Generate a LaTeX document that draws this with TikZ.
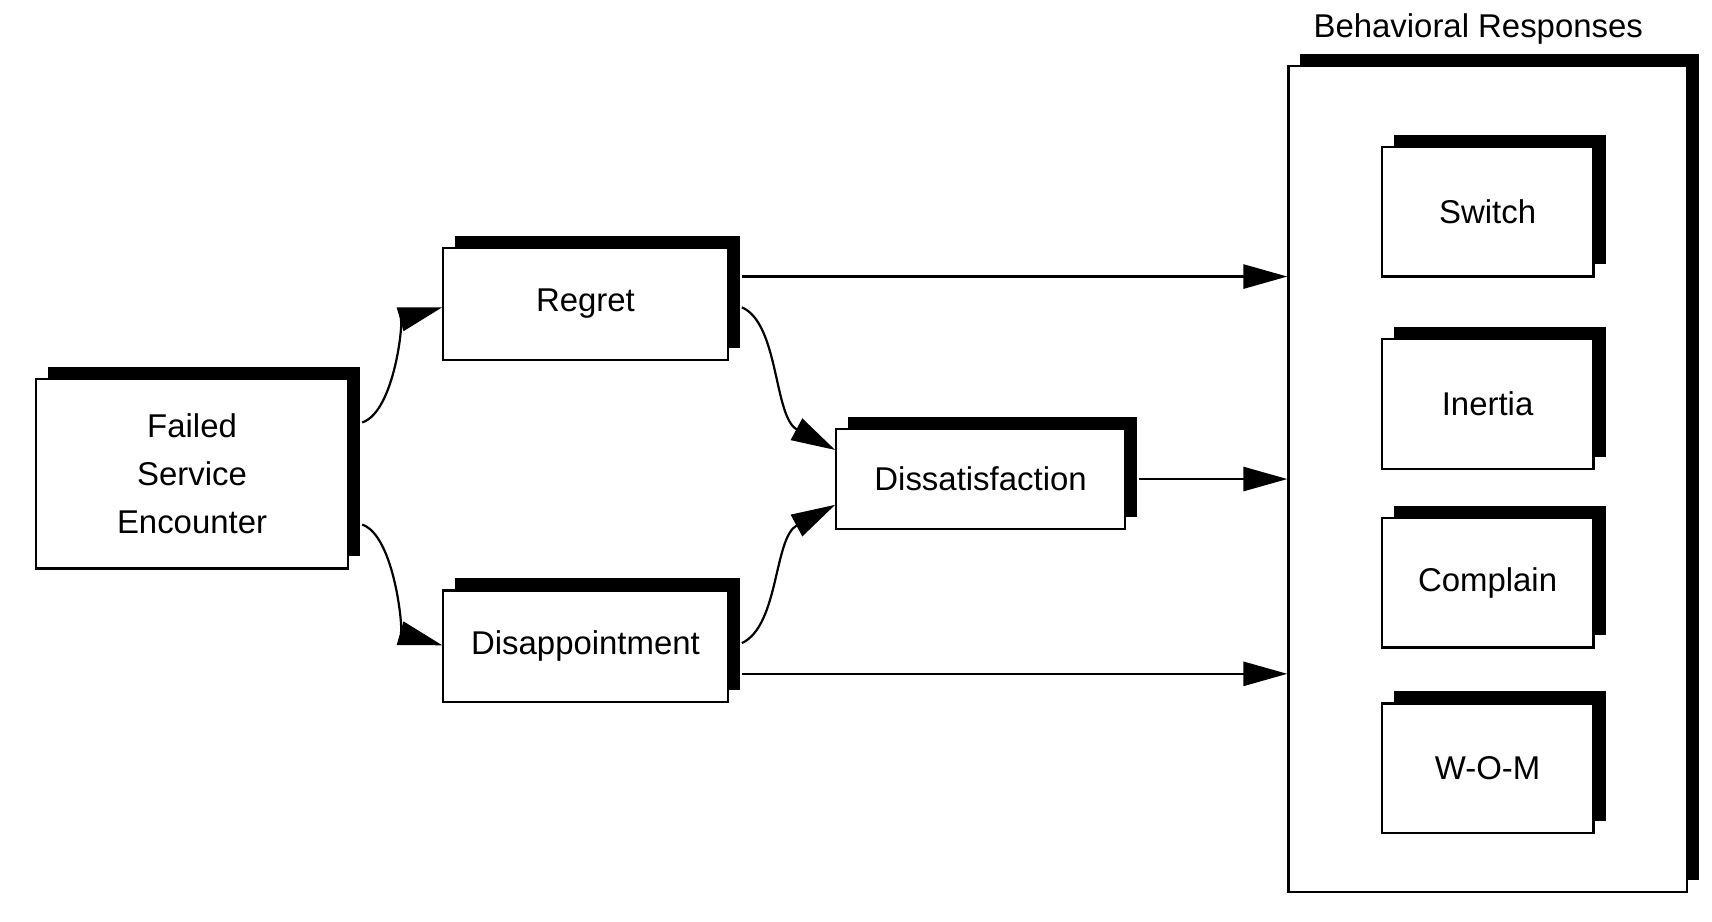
\documentclass[tikz,border=0pt]{standalone}
\usepackage{fontspec}
\setmainfont{Liberation Sans}
\usetikzlibrary{arrows.meta,calc}
\begin{document}
\begin{tikzpicture}[x=1pt,y=-1pt,
  font=\fontsize{30}{44}\selectfont,
  box/.style={draw=black,line width=2pt,fill=white,inner sep=0pt,align=center},
  arr/.style={line width=2pt,-{Triangle[length=40pt,width=22pt]}}]
\useasboundingbox (0,0) rectangle (1560,840);
\newcommand{\shbox}[6]{% name, x1,y1,x2,y2,text
  \fill[black] (#2+11,#3-11) rectangle (#4+11,#5-11);
  \node[box,minimum width=#4-#2,minimum height=#5-#3] (#1) at ({(#2+#4)/2},{(#3+#5)/2}) {#6};}
\shbox{big}{1174}{60}{1537}{813}{}
\node (title) at (1347,26) {Behavioral Responses};
\shbox{fse}{33}{345}{317}{518}{Failed\\Service\\Encounter}
\shbox{reg}{404}{226}{663}{328}{Regret}
\shbox{dis}{404}{538}{663}{640}{Disappointment}
\shbox{dsat}{762}{391}{1025}{482}{Dissatisfaction}
\shbox{sw}{1259}{134}{1452}{252}{Switch}
\shbox{in}{1259}{309}{1452}{427}{Inertia}
\shbox{co}{1259}{472}{1452}{590}{Complain}
\shbox{wom}{1259}{641}{1452}{759}{W-O-M}
\draw[arr] ([xshift=12pt]reg.east |- 0,252) -- (big.west |- 0,252);
\draw[arr] ([xshift=12pt]dsat.east) -- (big.west |- dsat.east);
\draw[arr] ([xshift=12pt]dis.east |- 0,614) -- (big.west |- 0,614);
\draw[arr] ([xshift=12pt]fse.east |- 0,385) .. controls (360,375) and (368,290) .. (reg.west |- 0,280);
\draw[arr] ([xshift=12pt]fse.east |- 0,478) .. controls (360,488) and (368,578) .. (dis.west |- 0,588);
\draw[arr] ([xshift=12pt]reg.east |- 0,280) .. controls (710,295) and (705,380) .. (dsat.west |- 0,410);
\draw[arr] ([xshift=12pt]dis.east |- 0,586) .. controls (710,570) and (705,490) .. (dsat.west |- 0,460);
\end{tikzpicture}
\end{document}
